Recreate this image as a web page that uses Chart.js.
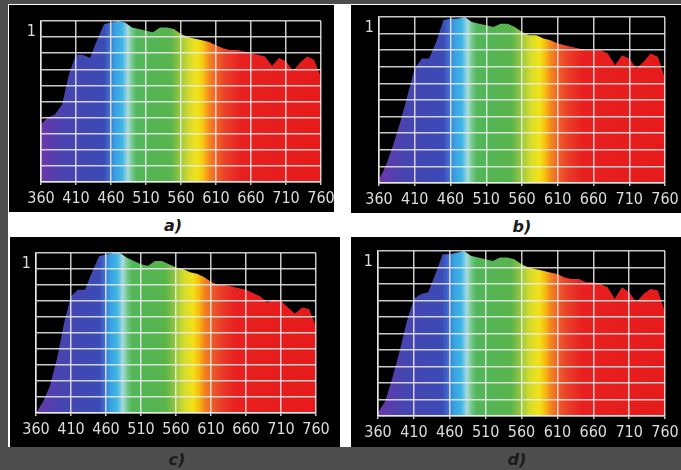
<!DOCTYPE html>
<html>
<head>
<meta charset="utf-8">
<script src="https://cdn.jsdelivr.net/npm/chart.js@4.4.1/dist/chart.umd.min.js"></script>
<style>
  html, body { margin: 0; padding: 0; }
  body { width: 681px; height: 470px; background: #4d4d4d; position: relative; overflow: hidden; }
  .sheet { position: absolute; left: 8px; top: 4px; width: 673px; height: 443px; background: #fff; }
  .panel { position: absolute; background: #000; }
  .panel canvas { display: block; }
  .cap { position: absolute; font: italic bold 16px 'DejaVu Sans', sans-serif; color: #1a1a1a;
         transform: translate(-50%, -50%); white-space: nowrap; }
</style>
</head>
<body>
<div class="sheet"></div>
<div class="panel" style="left:9px;top:5px;width:325px;height:207px"><canvas id="chartA" width="325" height="207"></canvas></div>
<div class="panel" style="left:351px;top:5px;width:330px;height:208px"><canvas id="chartB" width="330" height="208"></canvas></div>
<div class="panel" style="left:10px;top:237px;width:330px;height:210px"><canvas id="chartC" width="330" height="210"></canvas></div>
<div class="panel" style="left:351px;top:237px;width:330px;height:210px"><canvas id="chartD" width="330" height="210"></canvas></div>
<div class="cap" style="left:173px;top:225px">a)</div>
<div class="cap" style="left:522px;top:226px">b)</div>
<div class="cap" style="left:177px;top:459px">c)</div>
<div class="cap" style="left:517px;top:459px">d)</div>

<script>
'use strict';

// ── Data ─────────────────────────────────────────────────────────
const wavelengths = [360, 370, 380, 390, 400, 410, 420, 430, 440, 450,
                     460, 470, 480, 490, 500, 510, 520, 530, 540, 550,
                     560, 570, 580, 590, 600, 610, 620, 630, 640, 650,
                     660, 670, 680, 690, 700, 710, 720, 730, 740, 750, 760];

const spectrumA = [0.36, 0.40, 0.42, 0.48, 0.67, 0.79, 0.79, 0.77, 0.88, 0.98,
                   0.99, 1.00, 0.99, 0.96, 0.95, 0.94, 0.93, 0.96, 0.96, 0.95,
                   0.92, 0.90, 0.89, 0.88, 0.87, 0.85, 0.83, 0.82, 0.82, 0.81,
                   0.80, 0.79, 0.78, 0.72, 0.77, 0.75, 0.69, 0.74, 0.78, 0.76, 0.65];

const spectrumB = [0.02, 0.11, 0.23, 0.37, 0.53, 0.69, 0.75, 0.75, 0.85, 0.98,
                   0.99, 0.99, 1.00, 0.97, 0.96, 0.95, 0.94, 0.96, 0.96, 0.94,
                   0.91, 0.89, 0.89, 0.87, 0.86, 0.84, 0.83, 0.82, 0.81, 0.80,
                   0.80, 0.80, 0.78, 0.71, 0.77, 0.75, 0.69, 0.73, 0.78, 0.76, 0.63];

const spectrumC = [0.00, 0.07, 0.17, 0.34, 0.56, 0.73, 0.77, 0.77, 0.88, 0.98,
                   0.99, 1.00, 1.00, 0.97, 0.95, 0.93, 0.92, 0.95, 0.95, 0.93,
                   0.91, 0.90, 0.88, 0.87, 0.85, 0.82, 0.80, 0.80, 0.79, 0.78,
                   0.77, 0.75, 0.73, 0.69, 0.71, 0.70, 0.66, 0.62, 0.66, 0.65, 0.54];

const spectrumD = [0.02, 0.09, 0.23, 0.39, 0.57, 0.71, 0.74, 0.75, 0.86, 0.98,
                   0.98, 0.99, 1.00, 0.97, 0.96, 0.95, 0.94, 0.96, 0.96, 0.95,
                   0.92, 0.90, 0.89, 0.88, 0.87, 0.86, 0.84, 0.83, 0.83, 0.81,
                   0.81, 0.80, 0.78, 0.71, 0.78, 0.75, 0.69, 0.74, 0.77, 0.76, 0.63];

const xTicks  = [360, 410, 460, 510, 560, 610, 660, 710, 760];
const yTicks  = [0, 0.1, 0.2, 0.3, 0.4, 0.5, 0.6, 0.7, 0.8, 0.9, 1];
const yLabels = ['', '', '', '', '', '', '', '', '', '', '1'];

// ── Styles ───────────────────────────────────────────────────────
const GRID = 'rgba(236,236,236,0.85)';
const LABEL = '#dcdcdc';
const TICK_FONT = { family: "'Liberation Sans Narrow', 'DejaVu Sans Condensed', 'Liberation Sans', sans-serif", size: 16 };

// spectral colour at a wavelength (nm)
const spectrumStops = [
  [360, '#6c36a6'], [375, '#5a3dae'], [395, '#4744b0'], [450, '#3b4bb6'],
  [458, '#3f6ed0'], [466, '#36a2e2'], [476, '#3fb5e6'], [484, '#a9dadb'],
  [490, '#74c98c'], [497, '#52b65a'], [545, '#58b44c'], [560, '#9cc83c'],
  [572, '#d6dc2c'], [584, '#f2e21a'], [592, '#f6c20e'], [600, '#f4881e'],
  [610, '#ee6228'], [625, '#ea3c28'], [645, '#e82020'], [760, '#e61a1a']
];

function spectrumFill(ctx) {
  const chart = ctx.chart;
  if (!chart.chartArea) return '#3b4bb6';
  const sx = chart.scales.x;
  const x0 = sx.getPixelForValue(360), x1 = sx.getPixelForValue(760);
  const g = chart.ctx.createLinearGradient(x0, 0, x1, 0);
  spectrumStops.forEach(([wl, c]) => g.addColorStop((wl - 360) / 400, c));
  return g;
}

// ── One panel ────────────────────────────────────────────────────
// box: canvas offset/size on page; plot: wanted plot area on page
function makeSpectrum(id, values, box, plot) {
  const Y_W = 20, X_H = 30;
  const pad = {
    left:   plot.l - box.x - Y_W,
    top:    plot.t - box.y,
    right:  box.x + box.w - plot.r,
    bottom: box.y + box.h - plot.b - X_H
  };
  return new Chart(document.getElementById(id), {
    type: 'line',
    data: {
      datasets: [{
        data: wavelengths.map((w, i) => ({ x: w, y: values[i] })),
        fill: 'origin',
        backgroundColor: spectrumFill,
        borderWidth: 0,
        pointRadius: 0,
        tension: 0
      }]
    },
    options: {
      responsive: false,
      animation: false,
      layout: { padding: pad },
      plugins: { legend: { display: false }, tooltip: { enabled: false } },
      scales: {
        x: {
          type: 'linear', min: 360, max: 760,
          afterBuildTicks: s => { s.ticks = xTicks.map(v => ({ value: v })); },
          afterFit: s => { s.height = X_H; s.paddingLeft = 0; s.paddingRight = 0; },
          grid: { color: GRID, lineWidth: 1.5, tickLength: 3, z: 1 },
          border: { color: GRID, width: 1.5, z: 1 },
          ticks: { color: LABEL, font: TICK_FONT, padding: 4, autoSkip: false, maxRotation: 0 }
        },
        y: {
          min: 0, max: 1,
          afterBuildTicks: s => { s.ticks = yTicks.map(v => ({ value: v })); },
          afterFit: s => { s.width = Y_W; s.paddingTop = 0; s.paddingBottom = 0; },
          grid: { color: GRID, lineWidth: 1.5, drawTicks: false, z: 1 },
          border: { color: GRID, width: 1.5, z: 1 },
          ticks: {
            color: LABEL, font: TICK_FONT, padding: 5, autoSkip: false, labelOffset: 11,
            callback: (v, i) => yLabels[i]
          }
        }
      }
    }
  });
}

makeSpectrum('chartA', spectrumA, { x: 9,   y: 5,   w: 325, h: 207 }, { l: 41,  t: 21,  r: 321, b: 182 });
makeSpectrum('chartB', spectrumB, { x: 351, y: 5,   w: 330, h: 208 }, { l: 379, t: 17,  r: 665, b: 183 });
makeSpectrum('chartC', spectrumC, { x: 10,  y: 237, w: 330, h: 210 }, { l: 36,  t: 253, r: 316, b: 413 });
makeSpectrum('chartD', spectrumD, { x: 351, y: 237, w: 330, h: 210 }, { l: 378, t: 251, r: 665, b: 416 });
</script>
</body>
</html>
